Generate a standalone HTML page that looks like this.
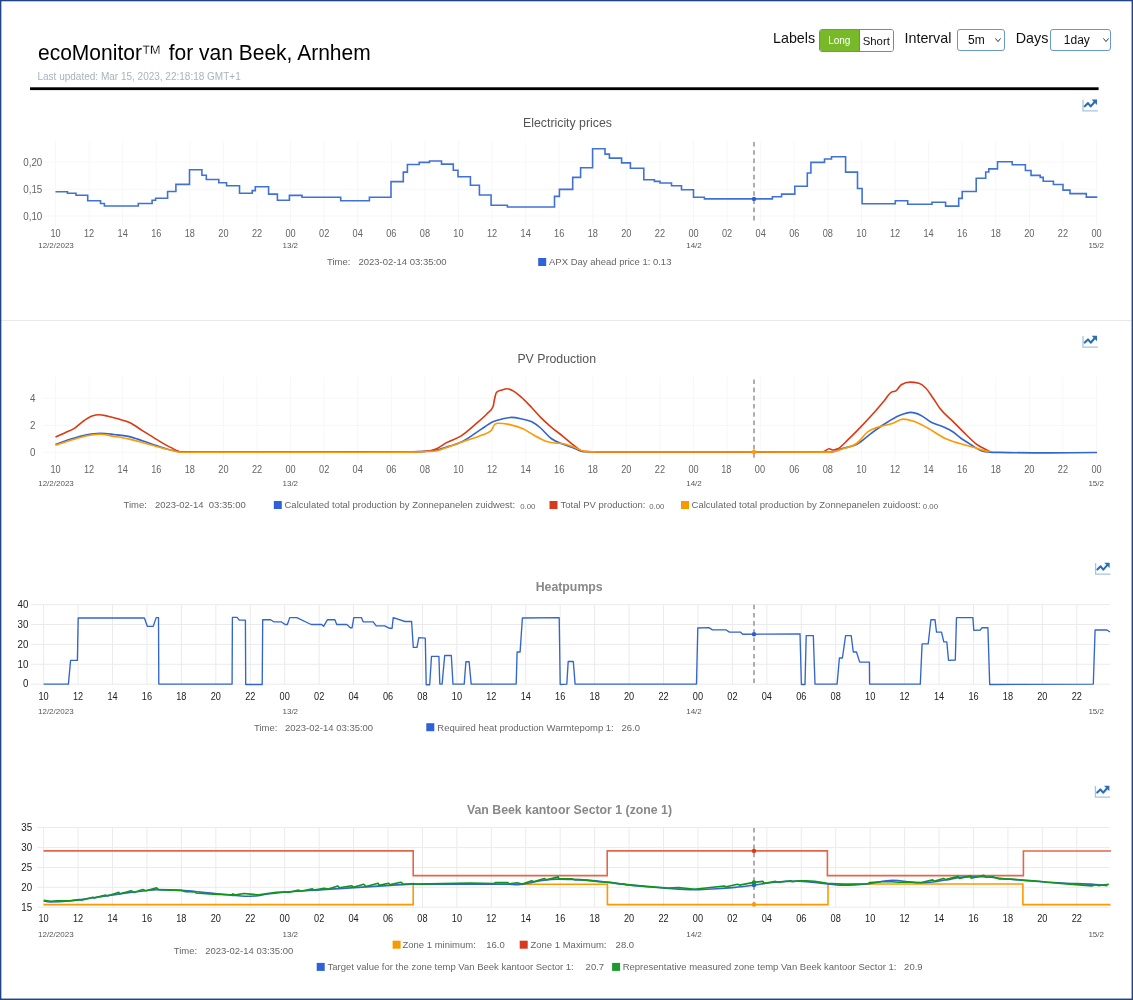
<!DOCTYPE html>
<html lang="en"><head><meta charset="utf-8"><title>ecoMonitor - van Beek, Arnhem</title>
<style>
html,body{margin:0;padding:0;background:#fff;}
body{width:1133px;height:1000px;position:relative;overflow:hidden;font-family:"Liberation Sans", Arial, Helvetica, sans-serif;}
svg{position:absolute;left:0;top:0;}
svg text{font-family:"Liberation Sans", Arial, Helvetica, sans-serif;}
.hdr-title{position:absolute;left:38px;top:38.5px;margin:0;font-size:21px;font-weight:normal;line-height:28px;white-space:nowrap;color:#000;transform:scale(1,1.08);transform-origin:0 21.2px;}
.tm{position:relative;left:-0.9px;top:0.9px;-webkit-text-stroke:0.35px #fff;}
.upd{position:absolute;left:37.5px;top:70px;font-size:10px;line-height:14px;color:#a7b3be;white-space:nowrap;}
.ctl{position:absolute;top:28px;font-size:14.3px;line-height:20px;color:#111;white-space:nowrap;}
.btngrp{position:absolute;left:818.5px;top:29px;width:75px;height:22.5px;box-sizing:border-box;border:1px solid #5d8cc6;border-radius:3px;overflow:hidden;display:flex;}
.btngrp span{display:block;height:100%;box-sizing:border-box;text-align:center;}
.btn-long{width:40.5px;background:#77b929;color:#fff;font-size:10px;line-height:21px;border-right:1px solid #4f8bbf;}
.btn-short{flex:1;color:#111;font-size:11.4px;line-height:22px;background:#fff;}
.sel{position:absolute;top:29.3px;height:22px;box-sizing:border-box;border:1px solid #6b98cc;border-radius:3px;background:#fff;font-size:12px;line-height:21px;color:#111;}
.sel .v{position:absolute;top:0;}
.sel .chev{position:absolute;top:6.5px;width:6px;height:6px;}
</style></head><body>
<h1 class="hdr-title">ecoMonitor<span class="tm">™</span> for van Beek, Arnhem</h1>
<div class="upd">Last updated: Mar 15, 2023, 22:18:18 GMT+1</div>
<div class="ctl" style="left:773px;">Labels</div>
<div class="btngrp"><span class="btn-long">Long</span><span class="btn-short">Short</span></div>
<div class="ctl" style="left:904.5px;">Interval</div>
<div class="sel" style="left:957px;width:47.5px;"><span class="v" style="left:10px">5m</span><svg class="chev" style="left:37px" viewBox="0 0 6 6"><path d="M0.4 1.4 L3 4.6 L5.6 1.4" fill="none" stroke="#222" stroke-width="0.9"/></svg></div>
<div class="ctl" style="left:1015.8px;">Days</div>
<div class="sel" style="left:1050.3px;width:61px;"><span class="v" style="left:12.5px">1day</span><svg class="chev" style="left:51.5px" viewBox="0 0 6 6"><path d="M0.4 1.4 L3 4.6 L5.6 1.4" fill="none" stroke="#222" stroke-width="0.9"/></svg></div>
<svg width="1133" height="1000" viewBox="0 0 1133 1000">
<rect x="30" y="87.3" width="1068.6" height="2.8" fill="#000"/>
<rect x="1" y="320" width="1130.6" height="1" fill="#e9e9e9"/>
<g fill="#f7f7f7"><rect x="43" y="161.5" width="1055.5" height="1"/><rect x="43" y="188.7" width="1055.5" height="1"/><rect x="43" y="215.5" width="1055.5" height="1"/><rect x="55" y="141.3" width="1" height="84.7"/><rect x="88.58" y="141.3" width="1" height="84.7"/><rect x="122.16" y="141.3" width="1" height="84.7"/><rect x="155.74" y="141.3" width="1" height="84.7"/><rect x="189.32" y="141.3" width="1" height="84.7"/><rect x="222.9" y="141.3" width="1" height="84.7"/><rect x="256.48" y="141.3" width="1" height="84.7"/><rect x="290.06" y="141.3" width="1" height="84.7"/><rect x="323.64" y="141.3" width="1" height="84.7"/><rect x="357.22" y="141.3" width="1" height="84.7"/><rect x="390.8" y="141.3" width="1" height="84.7"/><rect x="424.38" y="141.3" width="1" height="84.7"/><rect x="457.96" y="141.3" width="1" height="84.7"/><rect x="491.54" y="141.3" width="1" height="84.7"/><rect x="525.12" y="141.3" width="1" height="84.7"/><rect x="558.7" y="141.3" width="1" height="84.7"/><rect x="592.28" y="141.3" width="1" height="84.7"/><rect x="625.86" y="141.3" width="1" height="84.7"/><rect x="659.44" y="141.3" width="1" height="84.7"/><rect x="693.02" y="141.3" width="1" height="84.7"/><rect x="726.6" y="141.3" width="1" height="84.7"/><rect x="760.18" y="141.3" width="1" height="84.7"/><rect x="793.76" y="141.3" width="1" height="84.7"/><rect x="827.34" y="141.3" width="1" height="84.7"/><rect x="860.92" y="141.3" width="1" height="84.7"/><rect x="894.5" y="141.3" width="1" height="84.7"/><rect x="928.08" y="141.3" width="1" height="84.7"/><rect x="961.66" y="141.3" width="1" height="84.7"/><rect x="995.24" y="141.3" width="1" height="84.7"/><rect x="1028.82" y="141.3" width="1" height="84.7"/><rect x="1062.4" y="141.3" width="1" height="84.7"/><rect x="1095.98" y="141.3" width="1" height="84.7"/></g>
<text x="567.5" y="126.7" font-size="12.3" fill="#555" text-anchor="middle">Electricity prices</text>
<g transform="translate(1082.2 99.6)"><path d="M0.8 0.2 V11.3 H15.7" fill="none" stroke="#a6c3e2" stroke-width="1.3"/><polyline points="2.6,6.7 5.8,3.5 8.5,6.8 12.2,2.6" fill="none" stroke="#2a6fb6" stroke-width="2.1" stroke-linejoin="round" stroke-linecap="round"/><path d="M9.4 -0.1 H14.8 V5.3 Z" fill="#2a6fb6"/></g>
<text transform="translate(42.3 166) scale(0.98 1)" font-size="10" fill="#646464" text-anchor="end">0,20</text>
<text transform="translate(42.3 193.2) scale(0.98 1)" font-size="10" fill="#646464" text-anchor="end">0,15</text>
<text transform="translate(42.3 220) scale(0.98 1)" font-size="10" fill="#646464" text-anchor="end">0,10</text>
<text transform="translate(55.5 237) scale(0.92 1)" font-size="10" fill="#646464" text-anchor="middle">10</text>
<text transform="translate(89.08 237) scale(0.92 1)" font-size="10" fill="#646464" text-anchor="middle">12</text>
<text transform="translate(122.66 237) scale(0.92 1)" font-size="10" fill="#646464" text-anchor="middle">14</text>
<text transform="translate(156.24 237) scale(0.92 1)" font-size="10" fill="#646464" text-anchor="middle">16</text>
<text transform="translate(189.82 237) scale(0.92 1)" font-size="10" fill="#646464" text-anchor="middle">18</text>
<text transform="translate(223.4 237) scale(0.92 1)" font-size="10" fill="#646464" text-anchor="middle">20</text>
<text transform="translate(256.98 237) scale(0.92 1)" font-size="10" fill="#646464" text-anchor="middle">22</text>
<text transform="translate(290.56 237) scale(0.92 1)" font-size="10" fill="#646464" text-anchor="middle">00</text>
<text transform="translate(324.14 237) scale(0.92 1)" font-size="10" fill="#646464" text-anchor="middle">02</text>
<text transform="translate(357.72 237) scale(0.92 1)" font-size="10" fill="#646464" text-anchor="middle">04</text>
<text transform="translate(391.3 237) scale(0.92 1)" font-size="10" fill="#646464" text-anchor="middle">06</text>
<text transform="translate(424.88 237) scale(0.92 1)" font-size="10" fill="#646464" text-anchor="middle">08</text>
<text transform="translate(458.46 237) scale(0.92 1)" font-size="10" fill="#646464" text-anchor="middle">10</text>
<text transform="translate(492.04 237) scale(0.92 1)" font-size="10" fill="#646464" text-anchor="middle">12</text>
<text transform="translate(525.62 237) scale(0.92 1)" font-size="10" fill="#646464" text-anchor="middle">14</text>
<text transform="translate(559.2 237) scale(0.92 1)" font-size="10" fill="#646464" text-anchor="middle">16</text>
<text transform="translate(592.78 237) scale(0.92 1)" font-size="10" fill="#646464" text-anchor="middle">18</text>
<text transform="translate(626.36 237) scale(0.92 1)" font-size="10" fill="#646464" text-anchor="middle">20</text>
<text transform="translate(659.94 237) scale(0.92 1)" font-size="10" fill="#646464" text-anchor="middle">22</text>
<text transform="translate(693.52 237) scale(0.92 1)" font-size="10" fill="#646464" text-anchor="middle">00</text>
<text transform="translate(727.1 237) scale(0.92 1)" font-size="10" fill="#646464" text-anchor="middle">02</text>
<text transform="translate(760.68 237) scale(0.92 1)" font-size="10" fill="#646464" text-anchor="middle">04</text>
<text transform="translate(794.26 237) scale(0.92 1)" font-size="10" fill="#646464" text-anchor="middle">06</text>
<text transform="translate(827.84 237) scale(0.92 1)" font-size="10" fill="#646464" text-anchor="middle">08</text>
<text transform="translate(861.42 237) scale(0.92 1)" font-size="10" fill="#646464" text-anchor="middle">10</text>
<text transform="translate(895 237) scale(0.92 1)" font-size="10" fill="#646464" text-anchor="middle">12</text>
<text transform="translate(928.58 237) scale(0.92 1)" font-size="10" fill="#646464" text-anchor="middle">14</text>
<text transform="translate(962.16 237) scale(0.92 1)" font-size="10" fill="#646464" text-anchor="middle">16</text>
<text transform="translate(995.74 237) scale(0.92 1)" font-size="10" fill="#646464" text-anchor="middle">18</text>
<text transform="translate(1029.32 237) scale(0.92 1)" font-size="10" fill="#646464" text-anchor="middle">20</text>
<text transform="translate(1062.9 237) scale(0.92 1)" font-size="10" fill="#646464" text-anchor="middle">22</text>
<text transform="translate(1096.48 237) scale(0.92 1)" font-size="10" fill="#646464" text-anchor="middle">00</text>
<text x="56" y="248.1" font-size="8" fill="#555" text-anchor="middle">12/2/2023</text>
<text x="290.3" y="248.1" font-size="8" fill="#555" text-anchor="middle">13/2</text>
<text x="694" y="248.1" font-size="8" fill="#555" text-anchor="middle">14/2</text>
<text x="1096.2" y="248.1" font-size="8" fill="#555" text-anchor="middle">15/2</text>
<line x1="754" y1="142" x2="754" y2="221" stroke="#9a9a9a" stroke-width="1.6" stroke-dasharray="4.6 3.6"/>
<path d="M55.5 191.7 H67.5 V193.3 H76 V195.3 H87.7 V200.7 H100.5 V203.5 H104.4 V206 H138.3 V203.5 H152.1 V200.3 H155.6 V198.2 H167.6 V191.5 H175.9 V184.4 H189.5 V169.8 H201.9 V175.2 H206.3 V179.5 H218.8 V182.7 H226.6 V185.7 H239.5 V193.3 H252.2 V190.6 H255.3 V186.7 H268.6 V194.1 H277.4 V200.3 H289.4 V195.4 H302 V197.3 H340.7 V200.8 H369.4 V197.3 H391 V181.6 H403.3 V172.1 H407.4 V164.5 H419.2 V162.4 H429.5 V161 H441.5 V164.1 H453.3 V170.3 H458 V176.8 H470.4 V185.3 H479.4 V195 H491.1 V205.3 H507.4 V207 H554.5 V196.4 H559.4 V189.4 H572.7 V177.4 H580.6 V167.8 H592.6 V148.8 H605 V154.1 H609.4 V158.1 H621.6 V162.9 H630.4 V168.2 H643.8 V179.7 H654.4 V181.4 H660 V183 H671.5 V185.7 H681.5 V189.7 H693.5 V197.3 H704.4 V198.9 H772.4 V196.8 H781.6 V194.1 H794.8 V186.2 H807.3 V173 H810.9 V162.4 H824.5 V159 H831.5 V156.7 H845.6 V172.1 H857.5 V188.5 H862.1 V203.8 H895.3 V200.8 H907.7 V204.2 H932 V202.3 H945.6 V206.1 H958.7 V198.4 H962.2 V191.5 H976.2 V178.3 H985.7 V172 H988.8 V168.9 H997.5 V161.7 H1012.2 V164.8 H1025.4 V170.5 H1031 V175.4 H1040.2 V177.4 H1043.2 V181.2 H1053.4 V184.5 H1063 V190.1 H1070 V193.6 H1086.3 V197.1 H1097.3" fill="none" stroke="#4072d6" stroke-width="1.6" stroke-linejoin="miter"/>
<circle cx="754" cy="198.9" r="2.2" fill="#2a5fd4"/>
<text transform="translate(327 265.4) scale(0.97 1)" font-size="9.8" fill="#666" text-anchor="start">Time:</text>
<text transform="translate(358.5 265.4) scale(0.97 1)" font-size="9.8" fill="#666" text-anchor="start">2023-02-14 03:35:00</text>
<rect x="538.2" y="258" width="8" height="8" fill="#2f62d8"/>
<text transform="translate(549 265.4) scale(0.97 1)" font-size="9.8" fill="#666" text-anchor="start">APX Day ahead price 1: 0.13</text>
<g fill="#f7f7f7"><rect x="42.4" y="451.7" width="1056" height="1"/><rect x="42.4" y="424.8" width="1056" height="1"/><rect x="42.4" y="397.7" width="1056" height="1"/><rect x="55" y="377" width="1" height="85.5"/><rect x="88.58" y="377" width="1" height="85.5"/><rect x="122.16" y="377" width="1" height="85.5"/><rect x="155.74" y="377" width="1" height="85.5"/><rect x="189.32" y="377" width="1" height="85.5"/><rect x="222.9" y="377" width="1" height="85.5"/><rect x="256.48" y="377" width="1" height="85.5"/><rect x="290.06" y="377" width="1" height="85.5"/><rect x="323.64" y="377" width="1" height="85.5"/><rect x="357.22" y="377" width="1" height="85.5"/><rect x="390.8" y="377" width="1" height="85.5"/><rect x="424.38" y="377" width="1" height="85.5"/><rect x="457.96" y="377" width="1" height="85.5"/><rect x="491.54" y="377" width="1" height="85.5"/><rect x="525.12" y="377" width="1" height="85.5"/><rect x="558.7" y="377" width="1" height="85.5"/><rect x="592.28" y="377" width="1" height="85.5"/><rect x="625.86" y="377" width="1" height="85.5"/><rect x="659.44" y="377" width="1" height="85.5"/><rect x="693.02" y="377" width="1" height="85.5"/><rect x="726.6" y="377" width="1" height="85.5"/><rect x="760.18" y="377" width="1" height="85.5"/><rect x="793.76" y="377" width="1" height="85.5"/><rect x="827.34" y="377" width="1" height="85.5"/><rect x="860.92" y="377" width="1" height="85.5"/><rect x="894.5" y="377" width="1" height="85.5"/><rect x="928.08" y="377" width="1" height="85.5"/><rect x="961.66" y="377" width="1" height="85.5"/><rect x="995.24" y="377" width="1" height="85.5"/><rect x="1028.82" y="377" width="1" height="85.5"/><rect x="1062.4" y="377" width="1" height="85.5"/><rect x="1095.98" y="377" width="1" height="85.5"/></g>
<text x="556.7" y="362.5" font-size="12.3" fill="#555" text-anchor="middle">PV Production</text>
<g transform="translate(1082.2 335.9)"><path d="M0.8 0.2 V11.3 H15.7" fill="none" stroke="#a6c3e2" stroke-width="1.3"/><polyline points="2.6,6.7 5.8,3.5 8.5,6.8 12.2,2.6" fill="none" stroke="#2a6fb6" stroke-width="2.1" stroke-linejoin="round" stroke-linecap="round"/><path d="M9.4 -0.1 H14.8 V5.3 Z" fill="#2a6fb6"/></g>
<text transform="translate(35.5 401.8) scale(0.98 1)" font-size="10" fill="#646464" text-anchor="end">4</text>
<text transform="translate(35.5 428.9) scale(0.98 1)" font-size="10" fill="#646464" text-anchor="end">2</text>
<text transform="translate(35.5 455.8) scale(0.98 1)" font-size="10" fill="#646464" text-anchor="end">0</text>
<text transform="translate(55.5 472.7) scale(0.92 1)" font-size="10" fill="#646464" text-anchor="middle">10</text>
<text transform="translate(89.08 472.7) scale(0.92 1)" font-size="10" fill="#646464" text-anchor="middle">12</text>
<text transform="translate(122.66 472.7) scale(0.92 1)" font-size="10" fill="#646464" text-anchor="middle">14</text>
<text transform="translate(156.24 472.7) scale(0.92 1)" font-size="10" fill="#646464" text-anchor="middle">16</text>
<text transform="translate(189.82 472.7) scale(0.92 1)" font-size="10" fill="#646464" text-anchor="middle">18</text>
<text transform="translate(223.4 472.7) scale(0.92 1)" font-size="10" fill="#646464" text-anchor="middle">20</text>
<text transform="translate(256.98 472.7) scale(0.92 1)" font-size="10" fill="#646464" text-anchor="middle">22</text>
<text transform="translate(290.56 472.7) scale(0.92 1)" font-size="10" fill="#646464" text-anchor="middle">00</text>
<text transform="translate(324.14 472.7) scale(0.92 1)" font-size="10" fill="#646464" text-anchor="middle">02</text>
<text transform="translate(357.72 472.7) scale(0.92 1)" font-size="10" fill="#646464" text-anchor="middle">04</text>
<text transform="translate(391.3 472.7) scale(0.92 1)" font-size="10" fill="#646464" text-anchor="middle">06</text>
<text transform="translate(424.88 472.7) scale(0.92 1)" font-size="10" fill="#646464" text-anchor="middle">08</text>
<text transform="translate(458.46 472.7) scale(0.92 1)" font-size="10" fill="#646464" text-anchor="middle">10</text>
<text transform="translate(492.04 472.7) scale(0.92 1)" font-size="10" fill="#646464" text-anchor="middle">12</text>
<text transform="translate(525.62 472.7) scale(0.92 1)" font-size="10" fill="#646464" text-anchor="middle">14</text>
<text transform="translate(559.2 472.7) scale(0.92 1)" font-size="10" fill="#646464" text-anchor="middle">16</text>
<text transform="translate(592.78 472.7) scale(0.92 1)" font-size="10" fill="#646464" text-anchor="middle">18</text>
<text transform="translate(626.36 472.7) scale(0.92 1)" font-size="10" fill="#646464" text-anchor="middle">20</text>
<text transform="translate(659.94 472.7) scale(0.92 1)" font-size="10" fill="#646464" text-anchor="middle">22</text>
<text transform="translate(693.52 472.7) scale(0.92 1)" font-size="10" fill="#646464" text-anchor="middle">00</text>
<text transform="translate(726.3 472.7) scale(0.92 1)" font-size="10" fill="#646464" text-anchor="middle">18</text>
<text transform="translate(759.88 472.7) scale(0.92 1)" font-size="10" fill="#646464" text-anchor="middle">00</text>
<text transform="translate(794.26 472.7) scale(0.92 1)" font-size="10" fill="#646464" text-anchor="middle">06</text>
<text transform="translate(827.84 472.7) scale(0.92 1)" font-size="10" fill="#646464" text-anchor="middle">08</text>
<text transform="translate(861.42 472.7) scale(0.92 1)" font-size="10" fill="#646464" text-anchor="middle">10</text>
<text transform="translate(895 472.7) scale(0.92 1)" font-size="10" fill="#646464" text-anchor="middle">12</text>
<text transform="translate(928.58 472.7) scale(0.92 1)" font-size="10" fill="#646464" text-anchor="middle">14</text>
<text transform="translate(962.16 472.7) scale(0.92 1)" font-size="10" fill="#646464" text-anchor="middle">16</text>
<text transform="translate(995.74 472.7) scale(0.92 1)" font-size="10" fill="#646464" text-anchor="middle">18</text>
<text transform="translate(1029.32 472.7) scale(0.92 1)" font-size="10" fill="#646464" text-anchor="middle">20</text>
<text transform="translate(1062.9 472.7) scale(0.92 1)" font-size="10" fill="#646464" text-anchor="middle">22</text>
<text transform="translate(1096.48 472.7) scale(0.92 1)" font-size="10" fill="#646464" text-anchor="middle">00</text>
<text x="56" y="485.9" font-size="8" fill="#555" text-anchor="middle">12/2/2023</text>
<text x="290.3" y="485.9" font-size="8" fill="#555" text-anchor="middle">13/2</text>
<text x="694" y="485.9" font-size="8" fill="#555" text-anchor="middle">14/2</text>
<text x="1096.2" y="485.9" font-size="8" fill="#555" text-anchor="middle">15/2</text>
<line x1="754" y1="379.4" x2="754" y2="458" stroke="#9a9a9a" stroke-width="1.6" stroke-dasharray="4.6 3.6"/>
<path d="M55.5 444.4 C62.1 441.96 68.7 439.52 75.3 437.7 C80.6 436.24 85.9 434.83 91.2 434.1 C94.43 433.66 97.67 433.3 100.9 433.3 C105.3 433.3 109.7 434.01 114.1 434.5 C118.83 435.03 123.57 435.36 128.3 436.4 C133 437.43 137.7 439.17 142.4 440.7 C147.1 442.23 151.8 444.05 156.5 445.6 C161.2 447.15 165.9 448.89 170.6 450 C174.13 450.83 177.67 451.79 181.2 451.9 C187.47 452.1 193.73 452.2 200 452.2 C233.33 452.2 266.67 452.2 300 452.2 C336.67 452.2 373.33 452.1 410 451.9 C417.63 451.86 425.27 451.47 432.9 450.6 C437.03 450.13 441.17 448.62 445.3 447.4 C451.2 445.65 457.1 444.16 463 441.2 C468.87 438.25 474.73 433.48 480.6 429.7 C484.73 427.04 488.87 423.63 493 421.8 C495.93 420.5 498.87 419.82 501.8 419.1 C505.03 418.31 508.27 417.4 511.5 417.4 C514.73 417.4 517.97 418.12 521.2 418.8 C524.73 419.54 528.27 419.99 531.8 421.8 C534.73 423.31 537.67 425.55 540.6 428 C544.13 430.95 547.67 435.87 551.2 438.5 C554.73 441.13 558.27 442.32 561.8 443.8 C565.33 445.28 568.87 446.18 572.4 447.4 C576.53 448.83 580.67 451.64 584.8 451.8 C589.87 452 594.93 452.1 600 452.1 C633.33 452.1 666.67 452.1 700 452.1 C743.53 452.1 787.07 452.1 830.6 452.1 C834.73 452.1 838.87 449.54 843 448.3 C847.7 446.89 852.4 446.7 857.1 444.2 C861.8 441.7 866.5 436.75 871.2 433.3 C875.9 429.85 880.6 426.45 885.3 423.5 C890 420.55 894.7 417.5 899.4 415.6 C903.23 414.05 907.07 412.4 910.9 412.4 C914.13 412.4 917.37 413.68 920.6 415.2 C924.13 416.86 927.67 420.39 931.2 422.3 C935.33 424.53 939.47 425.23 943.6 427.1 C946.53 428.43 949.47 429.58 952.4 431.5 C954.93 433.16 957.47 435.64 960 437.5 C963.53 440.1 967.07 442.3 970.6 444.5 C974.13 446.7 977.67 449.55 981.2 450.7 C984.07 451.63 986.93 451.93 989.8 452.1 C993.2 452.3 996.6 452.33 1000 452.4 C1016.67 452.73 1033.33 452.9 1050 452.9 C1065.67 452.9 1081.33 452.7 1097 452.5" fill="none" stroke="#3366cc" stroke-width="1.6"/>
<path d="M55.5 437.1 C58.57 435.71 61.63 434.33 64.7 432.9 C67.93 431.4 71.17 430.43 74.4 428.3 C77.07 426.54 79.73 423.71 82.4 421.8 C85.63 419.49 88.87 417.16 92.1 416 C94.43 415.16 96.77 414.7 99.1 414.7 C101.77 414.7 104.43 415.45 107.1 416 C110.63 416.73 114.17 417.78 117.7 418.8 C121.8 419.98 125.9 420.75 130 422.7 C134.13 424.67 138.27 427.99 142.4 430.6 C147.1 433.57 151.8 436.6 156.5 439.4 C161.2 442.2 165.9 445.14 170.6 447.4 C174.13 449.1 177.67 451.69 181.2 451.8 C187.47 452 193.73 452.1 200 452.1 C233.33 452.1 266.67 452.1 300 452.1 C333.33 452.1 366.67 452.03 400 451.9 C409.23 451.86 418.47 451.7 427.7 451.3 C430.63 451.17 433.57 450.06 436.5 448.8 C440.03 447.28 443.57 444.32 447.1 442.4 C451.8 439.85 456.5 438.9 461.2 435.9 C465.9 432.9 470.6 428.49 475.3 424.4 C479.43 420.8 483.57 417.53 487.7 413 C489.47 411.07 491.23 410.93 493 406.8 C493.47 405.71 493.93 401.78 494.4 399.7 C495.1 396.58 495.8 392.91 496.5 392.3 C498.27 390.77 500.03 390.58 501.8 390 C503.57 389.42 505.33 388.8 507.1 388.8 C508.87 388.8 510.63 389.65 512.4 390.5 C515.33 391.91 518.27 394.57 521.2 397.1 C524.73 400.15 528.27 403.97 531.8 407.7 C534.73 410.8 537.67 414.42 540.6 417.4 C544.13 420.99 547.67 424.08 551.2 427.1 C555.33 430.63 559.47 433.46 563.6 436.8 C567.13 439.66 570.67 443.02 574.2 445.6 C577.13 447.74 580.07 451.06 583 451.3 C588.67 451.77 594.33 452 600 452 C633.33 452 666.67 452 700 452 C740.9 452 781.8 452.1 822.7 452.1 C824.87 452.1 827.03 448.8 829.2 448.8 C830.53 448.8 831.87 450 833.2 450 C834.7 450 836.2 449.48 837.7 448.8 C841.23 447.2 844.77 442.72 848.3 439.4 C852.4 435.55 856.5 431.35 860.6 427.1 C864.73 422.82 868.87 418.43 873 413.8 C876.53 409.84 880.07 405.66 883.6 401.5 C886.23 398.4 888.87 393.54 891.5 392.1 C892.97 391.3 894.43 391.7 895.9 390.9 C897.67 389.94 899.43 385.74 901.2 384.7 C904.13 382.97 907.07 382.1 910 382.1 C912.97 382.1 915.93 382.5 918.9 383.3 C921.23 383.93 923.57 385.78 925.9 388.2 C928.27 390.66 930.63 394.59 933 398 C935.33 401.36 937.67 405.42 940 408.5 C944.13 413.95 948.27 416.77 952.4 420.9 C957.1 425.6 961.8 430.53 966.5 435 C970.03 438.36 973.57 442.26 977.1 444.7 C978.9 445.94 980.7 446.82 982.5 447.8 C984.93 449.13 987.37 450.31 989.8 451.5" fill="none" stroke="#dc3912" stroke-width="1.6"/>
<path d="M55.5 445.3 C62.1 443.02 68.7 440.75 75.3 438.9 C80.6 437.42 85.9 435.73 91.2 435 C94.13 434.59 97.07 434.3 100 434.3 C104.7 434.3 109.4 435.64 114.1 436.4 C118.83 437.17 123.57 437.86 128.3 438.9 C133 439.93 137.7 441.33 142.4 442.6 C147.1 443.87 151.8 445.27 156.5 446.5 C161.2 447.73 165.9 448.92 170.6 450 C174.13 450.81 177.67 452.3 181.2 452.3 C187.47 452.3 193.73 452.3 200 452.3 C233.33 452.3 266.67 452.3 300 452.3 C336.67 452.3 373.33 452.23 410 452.1 C418.23 452.07 426.47 451.83 434.7 451.3 C438.23 451.07 441.77 449.07 445.3 447.9 C451.2 445.94 457.1 443.77 463 441.7 C468.87 439.64 474.73 437.97 480.6 435.5 C484.13 434.01 487.67 433.87 491.2 430.6 C492.37 429.52 493.53 425.18 494.7 424.4 C495.9 423.6 497.1 423.2 498.3 423.2 C501.83 423.2 505.37 423.7 508.9 424.4 C513.6 425.33 518.3 426.6 523 428.8 C526.53 430.45 530.07 433.07 533.6 435 C537.7 437.24 541.8 439.85 545.9 441.2 C548.83 442.17 551.77 442.62 554.7 443 C557.07 443.31 559.43 443.17 561.8 443.5 C565.33 444 568.87 445.32 572.4 446.5 C576.53 447.88 580.67 451.07 584.8 451.4 C589.87 451.8 594.93 452 600 452 C633.33 452 666.67 452 700 452 C743.53 452 787.07 452.1 830.6 452.1 C834.73 452.1 838.87 450.18 843 448.8 C847.7 447.23 852.4 446.66 857.1 443 C860.63 440.25 864.17 434.45 867.7 431.8 C871.23 429.15 874.77 428.38 878.3 427.1 C883 425.4 887.7 425.13 892.4 423.5 C895.93 422.28 899.47 419.1 903 419.1 C906.53 419.1 910.07 420.07 913.6 421.2 C918.3 422.7 923 425.49 927.7 428 C933.57 431.13 939.43 435.8 945.3 438.5 C950.2 440.76 955.1 442.09 960 443.6 C964.4 444.95 968.8 445.96 973.2 447.2 C977.63 448.45 982.07 450.41 986.5 451.1 C987.6 451.27 988.7 451.39 989.8 451.5" fill="none" stroke="#ff9900" stroke-width="1.6"/>
<circle cx="754" cy="452" r="2.2" fill="#ff9900"/>
<text transform="translate(123.5 508.4) scale(0.97 1)" font-size="9.8" fill="#666" text-anchor="start">Time:</text>
<text transform="translate(155 508.4) scale(0.97 1)" font-size="9.8" fill="#666" text-anchor="start">2023-02-14&#160; 03:35:00</text>
<rect x="273.8" y="501" width="8" height="8" fill="#2f62d8"/>
<text transform="translate(284.5 508.4) scale(0.97 1)" font-size="9.8" fill="#666" text-anchor="start">Calculated total production by Zonnepanelen zuidwest:</text>
<text x="520.2" y="508.6" font-size="7.8" fill="#666" text-anchor="start">0.00</text>
<rect x="549.5" y="501" width="8" height="8" fill="#d93a1d"/>
<text transform="translate(560.5 508.4) scale(0.97 1)" font-size="9.8" fill="#666" text-anchor="start">Total PV production:</text>
<text x="649.2" y="508.6" font-size="7.8" fill="#666" text-anchor="start">0.00</text>
<rect x="681" y="501" width="8" height="8" fill="#f69a00"/>
<text transform="translate(691.6 508.4) scale(0.97 1)" font-size="9.8" fill="#666" text-anchor="start">Calculated total production by Zonnepanelen zuidoost:</text>
<text x="922.8" y="508.6" font-size="7.8" fill="#666" text-anchor="start">0.00</text>
<g fill="#ebebeb"><rect x="31" y="604.1" width="1079" height="1"/><rect x="31" y="624" width="1079" height="1"/><rect x="31" y="643.9" width="1079" height="1"/><rect x="31" y="663.8" width="1079" height="1"/><rect x="31" y="683.7" width="1079" height="1"/><rect x="43.1" y="604.6" width="1" height="79.6"/><rect x="77.54" y="604.6" width="1" height="79.6"/><rect x="111.98" y="604.6" width="1" height="79.6"/><rect x="146.42" y="604.6" width="1" height="79.6"/><rect x="180.86" y="604.6" width="1" height="79.6"/><rect x="215.3" y="604.6" width="1" height="79.6"/><rect x="249.74" y="604.6" width="1" height="79.6"/><rect x="284.18" y="604.6" width="1" height="79.6"/><rect x="318.62" y="604.6" width="1" height="79.6"/><rect x="353.06" y="604.6" width="1" height="79.6"/><rect x="387.5" y="604.6" width="1" height="79.6"/><rect x="421.94" y="604.6" width="1" height="79.6"/><rect x="456.38" y="604.6" width="1" height="79.6"/><rect x="490.82" y="604.6" width="1" height="79.6"/><rect x="525.26" y="604.6" width="1" height="79.6"/><rect x="559.7" y="604.6" width="1" height="79.6"/><rect x="594.14" y="604.6" width="1" height="79.6"/><rect x="628.58" y="604.6" width="1" height="79.6"/><rect x="663.02" y="604.6" width="1" height="79.6"/><rect x="697.46" y="604.6" width="1" height="79.6"/><rect x="731.9" y="604.6" width="1" height="79.6"/><rect x="766.34" y="604.6" width="1" height="79.6"/><rect x="800.78" y="604.6" width="1" height="79.6"/><rect x="835.22" y="604.6" width="1" height="79.6"/><rect x="869.66" y="604.6" width="1" height="79.6"/><rect x="904.1" y="604.6" width="1" height="79.6"/><rect x="938.54" y="604.6" width="1" height="79.6"/><rect x="972.98" y="604.6" width="1" height="79.6"/><rect x="1007.42" y="604.6" width="1" height="79.6"/><rect x="1041.86" y="604.6" width="1" height="79.6"/><rect x="1076.3" y="604.6" width="1" height="79.6"/></g>
<text x="569.2" y="590.8" font-size="12.3" fill="#888" text-anchor="middle" font-weight="bold">Heatpumps</text>
<g transform="translate(1094.8 562.8)"><path d="M0.8 0.2 V11.3 H15.7" fill="none" stroke="#a6c3e2" stroke-width="1.3"/><polyline points="2.6,6.7 5.8,3.5 8.5,6.8 12.2,2.6" fill="none" stroke="#2a6fb6" stroke-width="2.1" stroke-linejoin="round" stroke-linecap="round"/><path d="M9.4 -0.1 H14.8 V5.3 Z" fill="#2a6fb6"/></g>
<text transform="translate(28.5 607.8) scale(0.98 1)" font-size="10" fill="#222" text-anchor="end">40</text>
<text transform="translate(28.5 627.7) scale(0.98 1)" font-size="10" fill="#222" text-anchor="end">30</text>
<text transform="translate(28.5 647.6) scale(0.98 1)" font-size="10" fill="#222" text-anchor="end">20</text>
<text transform="translate(28.5 667.5) scale(0.98 1)" font-size="10" fill="#222" text-anchor="end">10</text>
<text transform="translate(28.5 687.4) scale(0.98 1)" font-size="10" fill="#222" text-anchor="end">0</text>
<text transform="translate(43.6 700) scale(0.92 1)" font-size="10" fill="#222" text-anchor="middle">10</text>
<text transform="translate(78.04 700) scale(0.92 1)" font-size="10" fill="#222" text-anchor="middle">12</text>
<text transform="translate(112.48 700) scale(0.92 1)" font-size="10" fill="#222" text-anchor="middle">14</text>
<text transform="translate(146.92 700) scale(0.92 1)" font-size="10" fill="#222" text-anchor="middle">16</text>
<text transform="translate(181.36 700) scale(0.92 1)" font-size="10" fill="#222" text-anchor="middle">18</text>
<text transform="translate(215.8 700) scale(0.92 1)" font-size="10" fill="#222" text-anchor="middle">20</text>
<text transform="translate(250.24 700) scale(0.92 1)" font-size="10" fill="#222" text-anchor="middle">22</text>
<text transform="translate(284.68 700) scale(0.92 1)" font-size="10" fill="#222" text-anchor="middle">00</text>
<text transform="translate(319.12 700) scale(0.92 1)" font-size="10" fill="#222" text-anchor="middle">02</text>
<text transform="translate(353.56 700) scale(0.92 1)" font-size="10" fill="#222" text-anchor="middle">04</text>
<text transform="translate(388 700) scale(0.92 1)" font-size="10" fill="#222" text-anchor="middle">06</text>
<text transform="translate(422.44 700) scale(0.92 1)" font-size="10" fill="#222" text-anchor="middle">08</text>
<text transform="translate(456.88 700) scale(0.92 1)" font-size="10" fill="#222" text-anchor="middle">10</text>
<text transform="translate(491.32 700) scale(0.92 1)" font-size="10" fill="#222" text-anchor="middle">12</text>
<text transform="translate(525.76 700) scale(0.92 1)" font-size="10" fill="#222" text-anchor="middle">14</text>
<text transform="translate(560.2 700) scale(0.92 1)" font-size="10" fill="#222" text-anchor="middle">16</text>
<text transform="translate(594.64 700) scale(0.92 1)" font-size="10" fill="#222" text-anchor="middle">18</text>
<text transform="translate(629.08 700) scale(0.92 1)" font-size="10" fill="#222" text-anchor="middle">20</text>
<text transform="translate(663.52 700) scale(0.92 1)" font-size="10" fill="#222" text-anchor="middle">22</text>
<text transform="translate(697.96 700) scale(0.92 1)" font-size="10" fill="#222" text-anchor="middle">00</text>
<text transform="translate(732.4 700) scale(0.92 1)" font-size="10" fill="#222" text-anchor="middle">02</text>
<text transform="translate(766.84 700) scale(0.92 1)" font-size="10" fill="#222" text-anchor="middle">04</text>
<text transform="translate(801.28 700) scale(0.92 1)" font-size="10" fill="#222" text-anchor="middle">06</text>
<text transform="translate(835.72 700) scale(0.92 1)" font-size="10" fill="#222" text-anchor="middle">08</text>
<text transform="translate(870.16 700) scale(0.92 1)" font-size="10" fill="#222" text-anchor="middle">10</text>
<text transform="translate(904.6 700) scale(0.92 1)" font-size="10" fill="#222" text-anchor="middle">12</text>
<text transform="translate(939.04 700) scale(0.92 1)" font-size="10" fill="#222" text-anchor="middle">14</text>
<text transform="translate(973.48 700) scale(0.92 1)" font-size="10" fill="#222" text-anchor="middle">16</text>
<text transform="translate(1007.92 700) scale(0.92 1)" font-size="10" fill="#222" text-anchor="middle">18</text>
<text transform="translate(1042.36 700) scale(0.92 1)" font-size="10" fill="#222" text-anchor="middle">20</text>
<text transform="translate(1076.8 700) scale(0.92 1)" font-size="10" fill="#222" text-anchor="middle">22</text>
<text x="55.8" y="714.2" font-size="8" fill="#555" text-anchor="middle">12/2/2023</text>
<text x="290.3" y="714.2" font-size="8" fill="#555" text-anchor="middle">13/2</text>
<text x="694" y="714.2" font-size="8" fill="#555" text-anchor="middle">14/2</text>
<text x="1096.2" y="714.2" font-size="8" fill="#555" text-anchor="middle">15/2</text>
<line x1="754" y1="604.7" x2="754" y2="684" stroke="#9a9a9a" stroke-width="1.6" stroke-dasharray="4.6 3.6"/>
<path d="M43.6 684.1 L68.4 684.1 L70.6 660.3 L77.4 660.3 L78.2 618 L144.4 618 L147.4 626.4 L153.2 626.4 L156.2 617.6 L158.5 617.6 L158.8 684.1 L232.1 684.1 L232.4 617.4 L237.1 617.4 L239.2 620.1 L245.4 620.1 L245.7 684.5 L262.2 684.5 L262.7 619.7 L270.6 619.7 L273.8 621.8 L281.2 621.8 L285.1 624.5 L287.4 624.5 L289.7 617.6 L296.8 617.6 L311.2 624.5 L321.8 624.5 L323.6 626.4 L327.5 619.7 L334.9 619.7 L336.7 624.5 L346.8 624.5 L350.3 627.7 L352.1 627.7 L353.8 617.6 L361.4 617.6 L363.2 621.8 L373.2 621.8 L376.2 625.9 L384.7 625.9 L389.1 628.2 L392.1 628.2 L393.2 617.6 L405 621.5 L411.6 621.5 L413.3 647.4 L417 647.4 L418.8 637.7 L425.3 638.2 L426.2 684.7 L429.7 684.7 L431.5 656.3 L438.9 656.3 L439.8 684.1 L442.1 684.1 L444.7 655.5 L451.3 655.5 L453 684.1 L464.2 684.1 L465.9 661.7 L469.1 661.7 L471.2 684.1 L516.2 684.1 L517.1 652 L520.1 652 L522.4 618 L559.2 617.6 L560.2 684.5 L566.8 684.1 L568.2 661.5 L573.3 661.5 L575.1 684.1 L696.5 684.1 L697.8 628 L708.9 627.7 L712.4 629.8 L725.9 629.8 L729.4 632.1 L740.4 632.1 L742.7 634.2 L800 633.8 L801.4 684.5 L805 684.5 L806.2 635.6 L813.3 635.6 L815 684.1 L837.1 684.1 L839.4 658 L842.4 658 L845.6 635.6 L851.2 635.6 L853.3 652 L856.5 652 L859.7 662.1 L869.4 662.1 L869.6 684.1 L920.3 684.1 L922.1 643.9 L928.2 643.9 L930.9 619.7 L935 619.7 L936.5 632.1 L941.5 632.1 L943.8 641.8 L946.8 641.8 L948.5 660.3 L955.3 660 L956.5 617.6 L972.9 617.6 L973.8 630.3 L980.3 630 L982.1 627.7 L987.9 627.7 L989.7 684.5 L1093.3 684.1 L1095.1 630 L1106.9 630 L1110 632" fill="none" stroke="#3366cc" stroke-width="1.35" stroke-linejoin="round"/>
<circle cx="754" cy="634.2" r="2.2" fill="#2a5fd4"/>
<text transform="translate(254 730.6) scale(0.97 1)" font-size="9.8" fill="#666" text-anchor="start">Time:</text>
<text transform="translate(285 730.6) scale(0.97 1)" font-size="9.8" fill="#666" text-anchor="start">2023-02-14 03:35:00</text>
<rect x="426.3" y="723.2" width="8" height="8" fill="#2f62d8"/>
<text transform="translate(437.3 730.6) scale(0.97 1)" font-size="9.8" fill="#666" text-anchor="start">Required heat production Warmtepomp 1:</text>
<text transform="translate(621.5 730.6) scale(0.97 1)" font-size="9.8" fill="#666" text-anchor="start">26.0</text>
<g fill="#ebebeb"><rect x="37.6" y="827" width="1072.1" height="1"/><rect x="37.6" y="847.1" width="1072.1" height="1"/><rect x="37.6" y="867" width="1072.1" height="1"/><rect x="37.6" y="886.8" width="1072.1" height="1"/><rect x="37.6" y="906.7" width="1072.1" height="1"/><rect x="43.1" y="827.5" width="1" height="79.7"/><rect x="77.54" y="827.5" width="1" height="79.7"/><rect x="111.98" y="827.5" width="1" height="79.7"/><rect x="146.42" y="827.5" width="1" height="79.7"/><rect x="180.86" y="827.5" width="1" height="79.7"/><rect x="215.3" y="827.5" width="1" height="79.7"/><rect x="249.74" y="827.5" width="1" height="79.7"/><rect x="284.18" y="827.5" width="1" height="79.7"/><rect x="318.62" y="827.5" width="1" height="79.7"/><rect x="353.06" y="827.5" width="1" height="79.7"/><rect x="387.5" y="827.5" width="1" height="79.7"/><rect x="421.94" y="827.5" width="1" height="79.7"/><rect x="456.38" y="827.5" width="1" height="79.7"/><rect x="490.82" y="827.5" width="1" height="79.7"/><rect x="525.26" y="827.5" width="1" height="79.7"/><rect x="559.7" y="827.5" width="1" height="79.7"/><rect x="594.14" y="827.5" width="1" height="79.7"/><rect x="628.58" y="827.5" width="1" height="79.7"/><rect x="663.02" y="827.5" width="1" height="79.7"/><rect x="697.46" y="827.5" width="1" height="79.7"/><rect x="731.9" y="827.5" width="1" height="79.7"/><rect x="766.34" y="827.5" width="1" height="79.7"/><rect x="800.78" y="827.5" width="1" height="79.7"/><rect x="835.22" y="827.5" width="1" height="79.7"/><rect x="869.66" y="827.5" width="1" height="79.7"/><rect x="904.1" y="827.5" width="1" height="79.7"/><rect x="938.54" y="827.5" width="1" height="79.7"/><rect x="972.98" y="827.5" width="1" height="79.7"/><rect x="1007.42" y="827.5" width="1" height="79.7"/><rect x="1041.86" y="827.5" width="1" height="79.7"/><rect x="1076.3" y="827.5" width="1" height="79.7"/></g>
<text x="569.5" y="813.6" font-size="12.3" fill="#888" text-anchor="middle" font-weight="bold">Van Beek kantoor Sector 1 (zone 1)</text>
<g transform="translate(1094.6 785.9)"><path d="M0.8 0.2 V11.3 H15.7" fill="none" stroke="#a6c3e2" stroke-width="1.3"/><polyline points="2.6,6.7 5.8,3.5 8.5,6.8 12.2,2.6" fill="none" stroke="#2a6fb6" stroke-width="2.1" stroke-linejoin="round" stroke-linecap="round"/><path d="M9.4 -0.1 H14.8 V5.3 Z" fill="#2a6fb6"/></g>
<text transform="translate(32.2 831.1) scale(0.98 1)" font-size="10" fill="#222" text-anchor="end">35</text>
<text transform="translate(32.2 851.2) scale(0.98 1)" font-size="10" fill="#222" text-anchor="end">30</text>
<text transform="translate(32.2 871.1) scale(0.98 1)" font-size="10" fill="#222" text-anchor="end">25</text>
<text transform="translate(32.2 890.9) scale(0.98 1)" font-size="10" fill="#222" text-anchor="end">20</text>
<text transform="translate(32.2 910.8) scale(0.98 1)" font-size="10" fill="#222" text-anchor="end">15</text>
<text transform="translate(43.6 922.4) scale(0.92 1)" font-size="10" fill="#222" text-anchor="middle">10</text>
<text transform="translate(78.04 922.4) scale(0.92 1)" font-size="10" fill="#222" text-anchor="middle">12</text>
<text transform="translate(112.48 922.4) scale(0.92 1)" font-size="10" fill="#222" text-anchor="middle">14</text>
<text transform="translate(146.92 922.4) scale(0.92 1)" font-size="10" fill="#222" text-anchor="middle">16</text>
<text transform="translate(181.36 922.4) scale(0.92 1)" font-size="10" fill="#222" text-anchor="middle">18</text>
<text transform="translate(215.8 922.4) scale(0.92 1)" font-size="10" fill="#222" text-anchor="middle">20</text>
<text transform="translate(250.24 922.4) scale(0.92 1)" font-size="10" fill="#222" text-anchor="middle">22</text>
<text transform="translate(284.68 922.4) scale(0.92 1)" font-size="10" fill="#222" text-anchor="middle">00</text>
<text transform="translate(319.12 922.4) scale(0.92 1)" font-size="10" fill="#222" text-anchor="middle">02</text>
<text transform="translate(353.56 922.4) scale(0.92 1)" font-size="10" fill="#222" text-anchor="middle">04</text>
<text transform="translate(388 922.4) scale(0.92 1)" font-size="10" fill="#222" text-anchor="middle">06</text>
<text transform="translate(422.44 922.4) scale(0.92 1)" font-size="10" fill="#222" text-anchor="middle">08</text>
<text transform="translate(456.88 922.4) scale(0.92 1)" font-size="10" fill="#222" text-anchor="middle">10</text>
<text transform="translate(491.32 922.4) scale(0.92 1)" font-size="10" fill="#222" text-anchor="middle">12</text>
<text transform="translate(525.76 922.4) scale(0.92 1)" font-size="10" fill="#222" text-anchor="middle">14</text>
<text transform="translate(560.2 922.4) scale(0.92 1)" font-size="10" fill="#222" text-anchor="middle">16</text>
<text transform="translate(594.64 922.4) scale(0.92 1)" font-size="10" fill="#222" text-anchor="middle">18</text>
<text transform="translate(629.08 922.4) scale(0.92 1)" font-size="10" fill="#222" text-anchor="middle">20</text>
<text transform="translate(663.52 922.4) scale(0.92 1)" font-size="10" fill="#222" text-anchor="middle">22</text>
<text transform="translate(697.96 922.4) scale(0.92 1)" font-size="10" fill="#222" text-anchor="middle">00</text>
<text transform="translate(732.4 922.4) scale(0.92 1)" font-size="10" fill="#222" text-anchor="middle">02</text>
<text transform="translate(766.84 922.4) scale(0.92 1)" font-size="10" fill="#222" text-anchor="middle">04</text>
<text transform="translate(801.28 922.4) scale(0.92 1)" font-size="10" fill="#222" text-anchor="middle">06</text>
<text transform="translate(835.72 922.4) scale(0.92 1)" font-size="10" fill="#222" text-anchor="middle">08</text>
<text transform="translate(870.16 922.4) scale(0.92 1)" font-size="10" fill="#222" text-anchor="middle">10</text>
<text transform="translate(904.6 922.4) scale(0.92 1)" font-size="10" fill="#222" text-anchor="middle">12</text>
<text transform="translate(939.04 922.4) scale(0.92 1)" font-size="10" fill="#222" text-anchor="middle">14</text>
<text transform="translate(973.48 922.4) scale(0.92 1)" font-size="10" fill="#222" text-anchor="middle">16</text>
<text transform="translate(1007.92 922.4) scale(0.92 1)" font-size="10" fill="#222" text-anchor="middle">18</text>
<text transform="translate(1042.36 922.4) scale(0.92 1)" font-size="10" fill="#222" text-anchor="middle">20</text>
<text transform="translate(1076.8 922.4) scale(0.92 1)" font-size="10" fill="#222" text-anchor="middle">22</text>
<text x="55.8" y="937.2" font-size="8" fill="#555" text-anchor="middle">12/2/2023</text>
<text x="290.3" y="937.2" font-size="8" fill="#555" text-anchor="middle">13/2</text>
<text x="694" y="937.2" font-size="8" fill="#555" text-anchor="middle">14/2</text>
<text x="1096.2" y="937.2" font-size="8" fill="#555" text-anchor="middle">15/2</text>
<line x1="754" y1="828" x2="754" y2="905" stroke="#9a9a9a" stroke-width="1.6" stroke-dasharray="4.6 3.6"/>
<path d="M43.6 850.9 L413.2 850.9 L413.2 875.6 L607.2 875.6 L607.2 850.9 L827.4 850.9 L827.4 875.6 L1023.4 875.6 L1023.4 851 L1111 851" fill="none" stroke="#e3664a" stroke-width="1.6"/>
<path d="M43.6 904.6 L413.2 904.6 L413.2 884.2 L607.4 884.2 L607.4 904.6 L828 904.6 L828 884 L1022.9 884 L1022.9 904.6 L1110.5 904.6" fill="none" stroke="#ff9900" stroke-width="1.6"/>
<path d="M43.7 901 C46 901.5 48.3 902 50.6 902 C56.97 902 63.33 901.58 69.7 901 C77.47 900.3 85.23 898.9 93 897.8 C101.8 896.55 110.6 895.08 119.4 893.9 C128.23 892.71 137.07 891.66 145.9 890.7 C149.43 890.32 152.97 889.6 156.5 889.6 C164.83 889.6 173.17 889.87 181.5 890.4 C188.57 890.85 195.63 891.64 202.7 892.3 C212.23 893.19 221.77 894.28 231.3 895.1 C235.87 895.49 240.43 896.2 245 896.2 C248.53 896.2 252.07 896.13 255.6 896 C259.13 895.87 262.67 894.8 266.2 894.3 C269.13 893.89 272.07 893.54 275 893.2 C291 891.32 307 890.72 323 889.6 C345.33 888.04 367.67 886.67 390 885.4 C397.87 884.95 405.73 884.1 413.6 884.1 C444.07 884.1 474.53 884.1 505 884.1 C509.33 884.1 513.67 884.6 518 884.6 C520.83 884.6 523.67 883.93 526.5 883.5 C531.8 882.69 537.1 881.13 542.4 880.4 C547.7 879.67 553 879.1 558.3 879.1 C563.6 879.1 568.9 879.36 574.2 879.6 C581.23 879.91 588.27 880.27 595.3 880.9 C603.53 881.63 611.77 882.97 620 883.9 C628.93 884.91 637.87 885.89 646.8 886.7 C657.4 887.67 668 888.63 678.6 889.1 C685.63 889.41 692.67 889.6 699.7 889.6 C706.77 889.6 713.83 888.98 720.9 888.5 C725.6 888.18 730.3 887.86 735 887.4 C741.27 886.79 747.53 885.92 753.8 885.1 C760 884.29 766.2 883.14 772.4 882.5 C781.23 881.58 790.07 881.1 798.9 881.1 C808.43 881.1 817.97 883.07 827.5 883.9 C833.33 884.41 839.17 885.3 845 885.3 C852.6 885.3 860.2 884.57 867.8 883.8 C876.1 882.96 884.4 880.3 892.7 880.3 C901.53 880.3 910.37 882.8 919.2 882.8 C924.47 882.8 929.73 882.31 935 881.7 C940.3 881.08 945.6 879.95 950.9 879.1 C955.6 878.35 960.3 877.02 965 876.9 C970.4 876.77 975.8 876.7 981.2 876.7 C988.27 876.7 995.33 877.9 1002.4 878.5 C1013 879.4 1023.6 880.42 1034.2 881.2 C1044.97 881.99 1055.73 882.63 1066.5 883.2 C1075.33 883.67 1084.17 883.79 1093 884.4 C1097.83 884.74 1102.67 885.17 1107.5 885.6" fill="none" stroke="#3366cc" stroke-width="1.6"/>
<path d="M43.7 900.4 L50.6 901.3 L57 900.7 L69.7 900.7 L79.2 899.6 L81.3 900.2 L93 897.2 L94 898.1 L105.7 895.1 L107.3 896 L118.9 892.3 L119.4 893.9 L131.1 890.7 L133.8 892.5 L142.8 889.6 L145.9 890.7 L156.6 887.7 L158.7 889.8 L181.5 890.4 L185.7 891.7 L195.3 891.9 L195.8 893 L213.3 894.1 L231.3 894.9 L232.9 893.9 L235.5 894.9 L244 893.5 L250.3 894.1 L258.8 894.9 L267.3 893.5 L276.4 892.2 L285.9 891.7 L288 892.5 L298.6 890.1 L300.7 891.2 L312.4 888.9 L314 890.1 L324 888.2 L328.3 889.1 L337.8 885.9 L339.4 887.8 L351.6 885.7 L353.2 887.2 L363.8 884.3 L365.9 886.4 L378.1 883.2 L379.1 885.4 L388.5 883.3 L390.3 884.6 L400.9 882.2 L403.5 884.3 L413.6 883.5 L416.3 884.3 L429.5 883.9 L469.7 883 L494.1 883.5 L495.7 882.5 L507.4 882.5 L509.5 883.9 L517 882.8 L522.2 884.1 L531.8 880.7 L533.4 881.7 L544.5 878.6 L546.6 879.8 L558.3 876.9 L558.8 878.8 L572 878.8 L574.2 879.6 L580.5 879.6 L593.2 880.9 L598.5 881.7 L610.2 882.2 L620 883.9 L623.5 883.8 L625.6 884.6 L646.8 886.4 L668 888 L678.6 887.5 L694.4 889.3 L710.3 887.5 L724.1 886.1 L726.2 886.7 L737.4 884.3 L739.5 885.1 L753.8 882.4 L762.8 881.4 L764.4 883.2 L775.6 881.4 L778.7 882.2 L790.9 880.7 L792 881.7 L798.9 880.7 L806.3 880.9 L814.7 881.4 L827.5 883.2 L845 884.4 L867.8 883.8 L869.4 882.5 L882.1 881.7 L892.7 881.7 L898 882.2 L908.6 882 L921.3 882.5 L932.9 879.9 L934 881.2 L943.5 878.5 L945.6 879.6 L958.3 876.4 L959.4 878.5 L970.6 875.9 L971.1 878.2 L983.8 875.4 L986 877.2 L992.8 876.7 L999.2 878.9 L1010.8 879.1 L1023.6 880.1 L1039.4 881.2 L1046.6 882.3 L1066.5 883.9 L1091.7 885.9 L1095.6 884.7 L1098.3 885.6 L1108.9 884.2" fill="none" stroke="#109618" stroke-width="1.6" stroke-linejoin="round"/>
<circle cx="754" cy="850.9" r="2.2" fill="#dc3912"/>
<circle cx="754" cy="904.5" r="2.2" fill="#ff9900"/>
<circle cx="754" cy="885.1" r="2.2" fill="#2a5fd4"/>
<circle cx="754" cy="882.4" r="2.2" fill="#109618"/>
<rect x="392.6" y="940.7" width="8" height="8" fill="#f69a00"/>
<text transform="translate(402.5 948.1) scale(0.97 1)" font-size="9.8" fill="#666" text-anchor="start">Zone 1 minimum:</text>
<text transform="translate(486.3 948.1) scale(0.97 1)" font-size="9.8" fill="#666" text-anchor="start">16.0</text>
<rect x="519.7" y="940.7" width="8" height="8" fill="#d93a1d"/>
<text transform="translate(530.5 948.1) scale(0.97 1)" font-size="9.8" fill="#666" text-anchor="start">Zone 1 Maximum:</text>
<text transform="translate(615.6 948.1) scale(0.97 1)" font-size="9.8" fill="#666" text-anchor="start">28.0</text>
<text transform="translate(173.8 953.8) scale(0.97 1)" font-size="9.8" fill="#666" text-anchor="start">Time:</text>
<text transform="translate(205.2 953.8) scale(0.97 1)" font-size="9.8" fill="#666" text-anchor="start">2023-02-14 03:35:00</text>
<rect x="316.7" y="962.9" width="8" height="8" fill="#2f62d8"/>
<text transform="translate(327.5 970.3) scale(0.97 1)" font-size="9.8" fill="#666" text-anchor="start">Target value for the zone temp Van Beek kantoor Sector 1:</text>
<text transform="translate(585.6 970.3) scale(0.97 1)" font-size="9.8" fill="#666" text-anchor="start">20.7</text>
<rect x="612.1" y="962.9" width="8" height="8" fill="#1c9b2b"/>
<text transform="translate(622.7 970.3) scale(0.97 1)" font-size="9.8" fill="#666" text-anchor="start">Representative measured zone temp Van Beek kantoor Sector 1:</text>
<text transform="translate(904.1 970.3) scale(0.97 1)" font-size="9.8" fill="#666" text-anchor="start">20.9</text>
<g fill="#1f4585"><rect x="0" y="0" width="1133" height="1.3"/><rect x="0" y="0" width="1.35" height="1000"/><rect x="1131.6" y="0" width="1.4" height="1000"/><rect x="0" y="998.55" width="1133" height="1.45"/></g>
</svg>
</body></html>
